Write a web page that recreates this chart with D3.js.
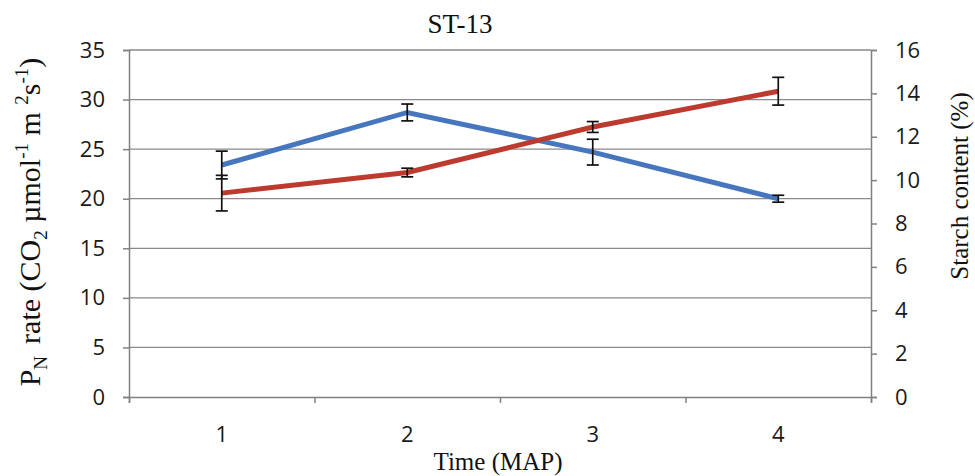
<!DOCTYPE html>
<html>
<head>
<meta charset="utf-8">
<script src="https://cdn.jsdelivr.net/npm/d3@7"></script>
<style>
  body { margin: 0; background: #fff; }
  .tick text { font-family: "Open Sans", sans-serif; font-size: 22px; fill: #1a1a1a; }
  .serif { font-family: "Liberation Serif", "DejaVu Serif", serif; fill: #111; }
</style>
</head>
<body>
<div class="graph"></div>
<script>
// Data
const times = ["1", "2", "3", "4"];
const pnRate = [23.4, 28.7, 24.7, 20.0];      // left axis, blue
const pnErr = [1.4, 0.85, 1.3, 0.35];
const starch = [9.4, 10.35, 12.45, 14.1];     // right axis, red
const starchErr = [0.82, 0.2, 0.25, 0.64];
const pnTicks = [0, 5, 10, 15, 20, 25, 30, 35];
const starchTicks = [0, 2, 4, 6, 8, 10, 12, 14, 16];

let width = 975;
let height = 476;
let margin = { top: 50, right: 104, bottom: 79, left: 129 };
let innerW = width - margin.left - margin.right;
let innerH = height - margin.top - margin.bottom;

let svg = d3.select(".graph").append("svg")
  .attr("width", width)
  .attr("height", height);

let g = svg.append("g")
  .attr("transform", "translate(" + margin.left + "," + margin.top + ")");

// Scales
let x = d3.scaleBand().domain(times).range([0, innerW]).padding(0);
let xEdge = d3.scaleLinear().domain([0, times.length]).range([0, innerW]);
let yL = d3.scaleLinear().domain([0, 35]).range([innerH, 0]);
let yR = d3.scaleLinear().domain([0, 16]).range([innerH, 0]);

const axisColor = "#808080";

// Gridlines
g.append("g")
  .selectAll("line")
  .data(pnTicks.filter(d => d > 0))
  .join("line")
  .attr("x1", 0)
  .attr("x2", innerW)
  .attr("y1", d => yL(d))
  .attr("y2", d => yL(d))
  .attr("stroke", "#8a8a8a")
  .attr("stroke-width", 1.3);

// Left axis
let leftAxis = g.append("g")
  .call(d3.axisLeft(yL).tickValues(pnTicks).tickSize(6).tickPadding(18));
// Right axis
let rightAxis = g.append("g")
  .attr("transform", "translate(" + innerW + ",0)")
  .call(d3.axisRight(yR).tickValues(starchTicks).tickSize(6).tickPadding(18));
// Bottom axis: tick marks at band edges, labels at band centres
let bottomTicks = g.append("g")
  .attr("transform", "translate(0," + innerH + ")")
  .call(d3.axisBottom(xEdge).tickValues(d3.range(0, times.length + 1)).tickFormat("").tickSize(6));
let bottomLabels = g.append("g")
  .attr("transform", "translate(0," + innerH + ")")
  .call(d3.axisBottom(x).tickSize(0).tickPadding(29));
bottomLabels.select(".domain").remove();

[leftAxis, rightAxis, bottomTicks].forEach(a => {
  a.selectAll(".domain").attr("stroke", axisColor).attr("stroke-width", 1.5);
  a.selectAll(".tick line").attr("stroke", axisColor).attr("stroke-width", 1.5);
});
g.selectAll(".tick text").attr("font-family", null).attr("font-size", null);

// Lines
let cx = d => x(d) + x.bandwidth() / 2;

let pnData = times.map((t, i) => ({ t: t, v: pnRate[i], e: pnErr[i] }));
let stData = times.map((t, i) => ({ t: t, v: starch[i], e: starchErr[i] }));

g.append("path")
  .datum(pnData)
  .attr("fill", "none")
  .attr("stroke", "#4677be")
  .attr("stroke-width", 5)
  .attr("d", d3.line().x(d => cx(d.t)).y(d => yL(d.v)));

g.append("path")
  .datum(stData)
  .attr("fill", "none")
  .attr("stroke", "#bd3a2f")
  .attr("stroke-width", 5)
  .attr("d", d3.line().x(d => cx(d.t)).y(d => yR(d.v)));

// Error bars
function errorBars(data, y) {
  let eb = g.append("g").attr("stroke", "#111").attr("stroke-width", 1.7);
  eb.selectAll(".stem")
    .data(data)
    .join("line")
    .attr("x1", d => cx(d.t))
    .attr("x2", d => cx(d.t))
    .attr("y1", d => y(d.v - d.e))
    .attr("y2", d => y(d.v + d.e));
  eb.selectAll(".capTop")
    .data(data)
    .join("line")
    .attr("class", "capTop")
    .attr("x1", d => cx(d.t) - 6)
    .attr("x2", d => cx(d.t) + 6)
    .attr("y1", d => y(d.v + d.e))
    .attr("y2", d => y(d.v + d.e));
  eb.selectAll(".capBot")
    .data(data)
    .join("line")
    .attr("class", "capBot")
    .attr("x1", d => cx(d.t) - 6)
    .attr("x2", d => cx(d.t) + 6)
    .attr("y1", d => y(d.v - d.e))
    .attr("y2", d => y(d.v - d.e));
}
errorBars(pnData, yL);
errorBars(stData, yR);

// Title
svg.append("text")
  .attr("class", "serif")
  .attr("x", 460)
  .attr("y", 33)
  .attr("text-anchor", "middle")
  .attr("font-size", 27)
  .text("ST-13");

// X axis title
svg.append("text")
  .attr("class", "serif")
  .attr("x", margin.left + innerW / 2 - 2)
  .attr("y", 470)
  .attr("text-anchor", "middle")
  .attr("font-size", 25)
  .text("Time (MAP)");

// Left axis title with sub/superscripts
let lt = svg.append("text")
  .attr("class", "serif")
  .attr("transform", "translate(40," + 222 + ") rotate(-90)")
  .attr("text-anchor", "middle")
  .attr("font-size", 30);
lt.append("tspan").text("P");
lt.append("tspan").attr("font-size", 19).attr("dy", 7).text("N");
lt.append("tspan").attr("dy", -7).attr("dx", 12).text("rate (CO");
lt.append("tspan").attr("font-size", 19).attr("dy", 7).text("2");
lt.append("tspan").attr("dy", -7).text(" µmol");
lt.append("tspan").attr("font-size", 19).attr("dy", -12).text("-1");
lt.append("tspan").attr("dy", 12).text(" m ");
lt.append("tspan").attr("font-size", 19).attr("dy", -12).text("2");
lt.append("tspan").attr("dy", 12).text("s");
lt.append("tspan").attr("font-size", 19).attr("dy", -12).text("-1");
lt.append("tspan").attr("dy", 12).text(")");

// Right axis title
svg.append("text")
  .attr("class", "serif")
  .attr("transform", "translate(968,186) rotate(-90)")
  .attr("text-anchor", "middle")
  .attr("font-size", 25)
  .text("Starch content (%)");
</script>
</body>
</html>
